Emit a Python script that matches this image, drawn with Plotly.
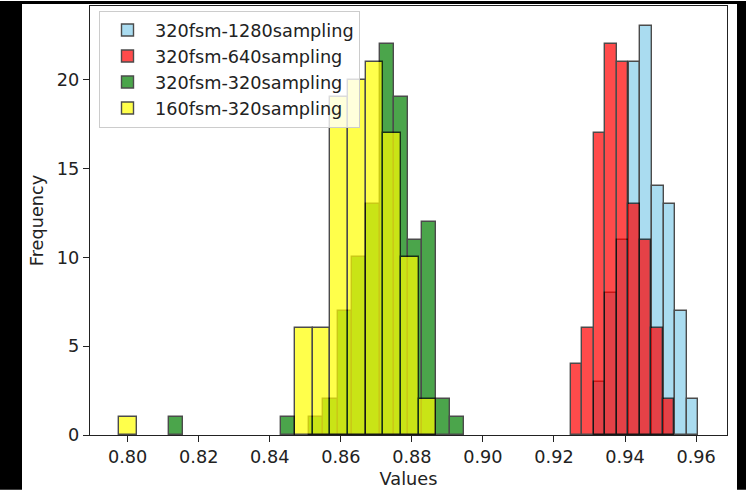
import plotly.graph_objects as go

# ---- data (histogram bin starts, bin widths and counts) ----
series_names = ["320fsm-1280sampling", "320fsm-640sampling",
                "320fsm-320sampling", "160fsm-320sampling"]
series_colors = ["#87CEEB", "#FF0000", "#008000", "#FFFF00"]

blue_start, blue_width = 0.931183, 0.003274
blue_counts = [3, 8, 11, 21, 23, 14, 13, 7, 2]

red_start, red_width = 0.924789, 0.003233
red_counts = [4, 6, 17, 22, 21, 13, 11, 6, 2]

green_start, green_width = 0.811634, 0.003953
green_counts = [1, 0, 0, 0, 0, 0, 0, 0, 1, 0, 1, 2, 7, 10, 13, 22, 19, 11, 12, 2, 1]

yellow_start, yellow_width = 0.797549, 0.004962
yellow_counts = [1, 0, 0, 0, 0, 0, 0, 0, 0, 0, 6, 6, 19, 20, 21, 17, 10, 2]

x_ticks = [0.80, 0.82, 0.84, 0.86, 0.88, 0.90, 0.92, 0.94, 0.96]
y_ticks = [0, 5, 10, 15, 20]

FONT = "DejaVu Sans"
FS = 17.7

series = [
    (blue_start, blue_width, blue_counts),
    (red_start, red_width, red_counts),
    (green_start, green_width, green_counts),
    (yellow_start, yellow_width, yellow_counts),
]

fig = go.Figure()
for i, ((start, width, counts), name, color) in enumerate(zip(series, series_names, series_colors)):
    xs, ys = [], []
    for k, c in enumerate(counts):
        if c > 0:
            xs.append(start + (k + 0.5) * width)
            ys.append(c)
    fig.add_trace(go.Bar(
        x=xs, y=ys, width=width, name=name,
        legendgroup=f"g{i}",
        marker=dict(color=color, line=dict(color="black", width=1.4)),
        opacity=0.7,
    ))

W, H = 746, 491
L, R, T, B = 90, 19, 5, 55
pw, ph = W - L - R, H - T - B

def px_x(p):
    return (p - L) / pw

def px_y(p):
    return (H - B - p) / ph

shapes = [
    dict(type="rect", xref="paper", yref="paper", x0=px_x(0), x1=px_x(22),
         y0=px_y(H), y1=px_y(0), fillcolor="black", line=dict(width=0), layer="above"),
    dict(type="rect", xref="paper", yref="paper", x0=px_x(737), x1=px_x(W),
         y0=px_y(H), y1=px_y(0), fillcolor="black", line=dict(width=0), layer="above"),
    dict(type="rect", xref="paper", yref="paper", x0=px_x(0), x1=px_x(W),
         y0=px_y(3), y1=px_y(0), fillcolor="black", line=dict(width=0), layer="above"),
]

fig.update_layout(
    width=W, height=H,
    margin=dict(l=L, r=R, t=T, b=B, pad=0),
    paper_bgcolor="white", plot_bgcolor="white",
    barmode="overlay", bargap=0,
    font=dict(family=FONT, size=FS, color="#222"),
    showlegend=True,
    legend=dict(
        x=px_x(99), y=px_y(10), xanchor="left", yanchor="top",
        bgcolor="rgba(255,255,255,0.8)", bordercolor="#cccccc", borderwidth=1,
        font=dict(family=FONT, size=FS, color="#222"),
        tracegroupgap=5, traceorder="normal", itemwidth=45,
    ),
    shapes=shapes,
    xaxis=dict(
        range=[0.7894, 0.9687], tickmode="array", tickvals=x_ticks,
        ticktext=[f"{v:.2f}" for v in x_ticks],
        showgrid=False, zeroline=False,
        showline=True, mirror=True, linecolor="#222", linewidth=1.2,
        ticks="outside", ticklen=6, tickwidth=1.3, tickcolor="#222",
        title=dict(text="Values", standoff=6, font=dict(family=FONT, size=FS)),
    ),
    yaxis=dict(
        range=[0, 24.15], tickmode="array", tickvals=y_ticks,
        ticktext=[str(v) for v in y_ticks],
        showgrid=False, zeroline=False,
        showline=True, mirror=True, linecolor="#222", linewidth=1.2,
        ticks="outside", ticklen=6, tickwidth=1.3, tickcolor="#222",
        title=dict(text="Frequency", standoff=8, font=dict(family=FONT, size=FS)),
    ),
)

fig.write_html("out.html", config={"displayModeBar": False},
               post_script="document.body.style.margin='0px';")
